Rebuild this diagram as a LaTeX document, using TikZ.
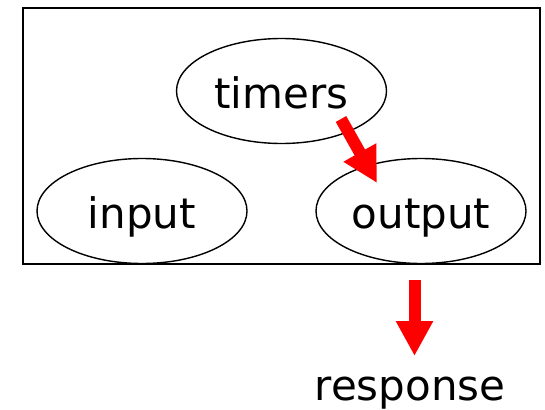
\documentclass[tikz,border=0pt]{standalone}
\usepackage{fontspec}
\setmainfont{DejaVu Sans}
\usetikzlibrary{shapes.geometric,arrows.meta}
\tikzset{
  blob/.style={ellipse, draw=black, line width=1.4pt, minimum width=210pt, minimum height=105pt,
    inner sep=0pt, text height=35pt, text depth=0pt, font=\fontsize{42}{48}\selectfont},
  redarrow/.style={draw=red, line width=12pt, -{Triangle[length=35pt,width=35pt]}},
  frame/.style={draw=black, line width=2pt}
}
\begin{document}
\begin{tikzpicture}[x=1pt,y=-1pt]
\useasboundingbox (0,0) rectangle (545,409);
\draw[frame] (23,8) rectangle (540,264);
\node[blob] (timers) at (281.5,91) {timers};
\node[blob] (input) at (142,211) {input};
\node[blob] (output) at (421,211) {output};
\node[anchor=base, inner sep=0pt, font=\fontsize{42}{48}\selectfont] (response) at (410,400) {response};
\coordinate (a1s) at (341,119);
\coordinate (a1e) at (377,183);
\coordinate (a2s) at (414.5,280);
\coordinate (a2e) at (414.5,356);
\draw[redarrow] (a1s) -- (a1e);
\draw[redarrow] (a2s) -- (a2e);
\end{tikzpicture}
\end{document}
